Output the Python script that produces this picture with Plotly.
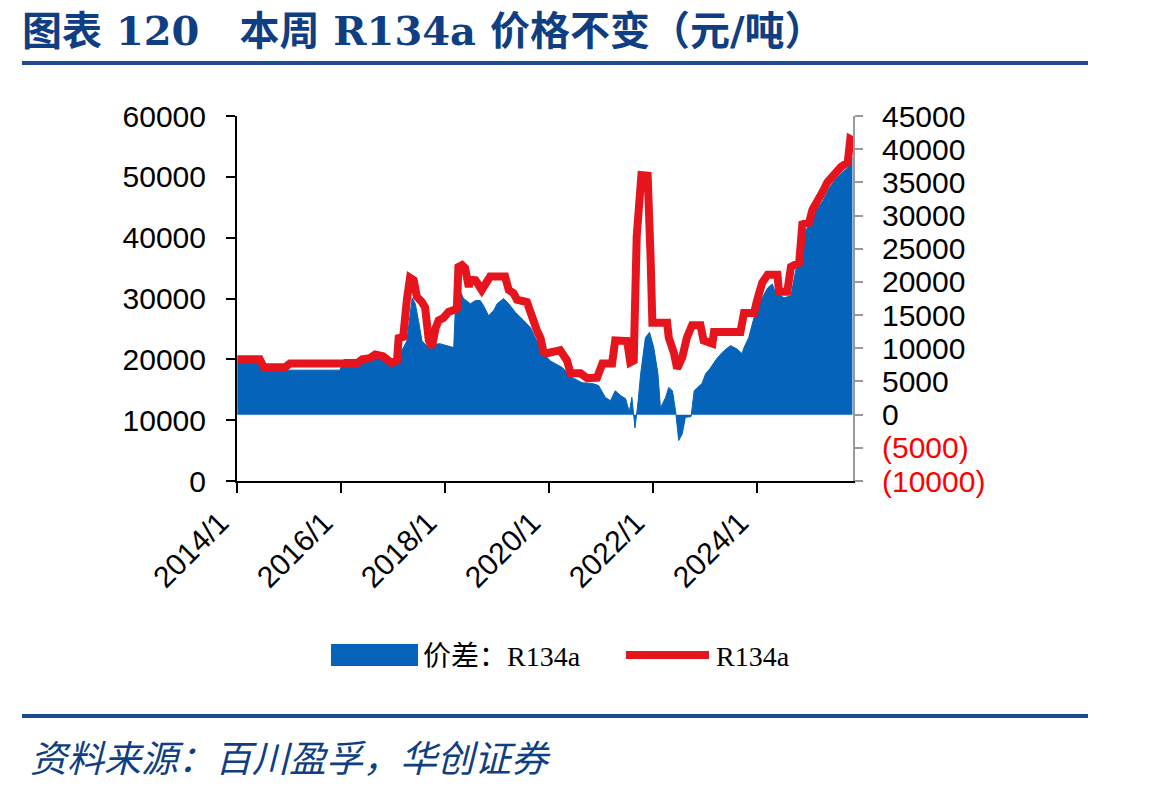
import plotly.graph_objects as go

# ---------------- data ----------------
price_dates = [
    "2014-01-03", "2014-06-10", "2014-07-09", "2014-12-05", "2015-01-08", "2016-04-23",
    "2016-05-30", "2016-07-23", "2016-08-29", "2016-10-23", "2016-12-20", "2017-01-30",
    "2017-02-10", "2017-03-14", "2017-04-09", "2017-05-01", "2017-05-27", "2017-06-18",
    "2017-07-24", "2017-08-15", "2017-09-10", "2017-10-02", "2017-10-27", "2017-11-18",
    "2017-12-21", "2018-01-27", "2018-03-04", "2018-03-26", "2018-04-06", "2018-05-01",
    "2018-05-23", "2018-06-18", "2018-06-29", "2018-08-04", "2018-09-17", "2018-10-13",
    "2018-11-15", "2019-02-28", "2019-03-26", "2019-04-28", "2019-05-23", "2019-08-01",
    "2019-08-26", "2019-09-17", "2019-10-09", "2019-11-04", "2019-11-25", "2019-12-20",
    "2020-03-21", "2020-05-08", "2020-06-02", "2020-08-11", "2020-09-27", "2020-12-05",
    "2021-01-12", "2021-03-21", "2021-04-12", "2021-07-05", "2021-07-27", "2021-08-20",
    "2021-09-10", "2021-10-13", "2021-11-26", "2021-12-17", "2021-12-29", "2022-04-12",
    "2022-04-23", "2022-05-30", "2022-06-21", "2022-07-27", "2022-08-29", "2022-10-04",
    "2022-12-02", "2022-12-24", "2023-02-24", "2023-03-07", "2023-09-09", "2023-10-04",
    "2023-12-13", "2024-01-05", "2024-02-09", "2024-03-18", "2024-05-26", "2024-06-06",
    "2024-08-03", "2024-08-29", "2024-10-26", "2024-11-17", "2025-01-04", "2025-01-27",
    "2025-03-04", "2025-04-10", "2025-05-12", "2025-06-29", "2025-08-15", "2025-10-02",
    "2025-10-13", "2025-10-20", "2025-11-04",
]
price_values = [
    20000, 20000, 18700, 18700, 19300, 19300,
    20000, 20200, 20800, 20500, 19400, 19800,
    23500, 23700, 29800, 33400, 33000, 30300,
    29400, 28500, 23100, 22000, 25100, 26400,
    26800, 27800, 28100, 28300, 35200, 35500,
    35000, 31900, 33100, 33000, 31400, 32700,
    33600, 33600, 31400, 30900, 29800, 29400,
    27600, 25600, 24800, 23500, 21200, 21000,
    21500, 19800, 17700, 17700, 16900, 17000,
    19300, 19300, 23100, 23000, 19500, 19800,
    40200, 50300, 50200, 36400, 26000, 26000,
    23600, 21000, 18500, 20300, 23600, 25600,
    25600, 23100, 22600, 24500, 24500, 27600,
    27600, 29800, 32600, 33900, 33900, 31100,
    31100, 35200, 35900, 42200, 42500, 44600,
    45800, 47600, 49100, 50400, 51600, 52400,
    54000, 56200, 56000,
]

spread_dates = [
    "2014-01-03", "2014-06-10", "2014-07-09", "2015-12-25", "2016-01-22", "2016-04-16",
    "2016-05-30", "2016-08-29", "2016-11-28", "2017-01-15", "2017-02-21", "2017-04-09",
    "2017-05-16", "2017-06-07", "2017-06-29", "2017-07-24", "2017-08-26", "2017-11-25",
    "2018-03-04", "2018-03-15", "2018-04-21", "2018-05-12", "2018-06-29", "2018-08-04",
    "2018-09-06", "2018-09-28", "2018-11-04", "2018-12-10", "2019-01-03", "2019-02-17",
    "2019-03-26", "2019-05-12", "2019-07-09", "2019-08-26", "2019-10-09", "2019-11-25",
    "2020-01-12", "2020-04-05", "2020-06-13", "2020-08-22", "2020-10-30", "2020-12-16",
    "2021-02-02", "2021-03-10", "2021-04-12", "2021-05-19", "2021-06-24", "2021-07-20",
    "2021-08-07", "2021-08-29", "2021-09-20", "2021-10-08", "2021-11-10", "2021-12-09",
    "2022-01-08", "2022-02-06", "2022-02-24", "2022-04-01", "2022-04-23", "2022-05-19",
    "2022-06-10", "2022-07-02", "2022-07-27", "2022-08-18", "2022-09-27", "2022-10-19",
    "2022-12-13", "2023-01-08", "2023-02-06", "2023-03-25", "2023-05-15", "2023-07-01",
    "2023-08-15", "2023-09-20", "2023-10-04", "2023-11-06", "2023-12-13", "2024-01-30",
    "2024-03-18", "2024-04-20", "2024-05-11", "2024-07-12", "2024-08-29", "2024-10-01",
    "2024-11-06", "2024-11-28", "2025-01-08", "2025-02-20", "2025-04-10", "2025-05-27",
    "2025-06-29", "2025-08-15", "2025-10-02", "2025-10-27", "2025-11-04",
]
spread_values = [
    7700, 7700, 6700, 6700, 8300, 8300,
    8500, 9300, 8600, 8100, 9200, 11100,
    17600, 16700, 14200, 11100, 10400, 10700,
    10100, 15700, 18500, 17500, 16700, 17200,
    17200, 16500, 14900, 15700, 16700, 17500,
    16700, 15400, 14200, 13100, 11100, 9200,
    8100, 7100, 5600, 4800, 4700, 4400,
    2600, 2100, 3600, 2900, 2400, 400,
    2600, -2000, 2000, 6200, 11600, 12400,
    10100, 6200, 1000, 2600, 4100, 3600,
    600, -3900, -2900, -400, -300, 3600,
    4700, 6200, 6900, 8400, 9600, 10400,
    9900, 9200, 10100, 11600, 14600, 17200,
    19100, 19700, 18400, 17600, 17900, 21700,
    24200, 27200, 28800, 30700, 32200, 34200,
    35200, 36300, 37200, 38700, 38700,
]

left_tick_values = [0, 10000, 20000, 30000, 40000, 50000, 60000]
right_tick_values = [-10000, -5000, 0, 5000, 10000, 15000, 20000, 25000, 30000, 35000, 40000, 45000]
x_tick_dates = ["2014-01-01", "2016-01-01", "2018-01-01", "2020-01-01", "2022-01-01", "2024-01-01"]
x_tick_labels = ["2014/1", "2016/1", "2018/1", "2020/1", "2022/1", "2024/1"]

series_names = ["价差：R134a", "R134a"]
title_text = "图表 120　本周 R134a 价格不变（元/吨）"
source_text = "资料来源：百川盈孚，华创证券"

# ---------------- style ----------------
BLUE = "#0563b9"
RED = "#e5141d"
NAVY = "#0f3f82"
RULE = "#1c4b8f"
SANS = "Liberation Sans, Arial, sans-serif"
SERIF = "Liberation Serif, Noto Sans CJK SC, serif"
TITLE_FONT = "DejaVu Serif, Noto Sans CJK SC, serif"

W, H = 1149, 792
L, R, T, B = 237, 296, 116, 311
PW, PH = W - L - R, H - T - B


def fx(x):
    return (x - L) / PW


def fy(y):
    return (H - B - y) / PH


right_tick_text = [
    f'<span style="color:#ff0000">({-v})</span>' if v < 0 else str(v)
    for v in right_tick_values
]

fig = go.Figure()
fig.add_trace(go.Scatter(
    x=spread_dates, y=spread_values, yaxis="y", mode="lines",
    fill="tozeroy", fillcolor=BLUE, line=dict(color=BLUE, width=1),
    name=series_names[0], showlegend=False,
))
fig.add_trace(go.Scatter(
    x=price_dates, y=price_values, yaxis="y2", mode="lines",
    line=dict(color=RED, width=8), name=series_names[1], showlegend=False,
))

fig.update_layout(
    width=W, height=H,
    margin=dict(l=L, r=R, t=T, b=B, pad=0, autoexpand=False),
    paper_bgcolor="white", plot_bgcolor="white",
    xaxis=dict(
        type="date", range=["2014-01-01", "2025-11-08"],
        tickvals=x_tick_dates, ticktext=x_tick_labels, tickangle=-45,
        showgrid=False, zeroline=False, showline=True, linecolor="black", linewidth=2,
        ticks="outside", ticklen=10, tickwidth=2, tickcolor="black",
        tickfont=dict(family=SANS, size=30, color="black"),
        ticklabelshift=-17,
    ),
    yaxis=dict(
        side="right", range=[-10000, 45000],
        tickvals=right_tick_values, ticktext=right_tick_text,
        showgrid=False, zeroline=False, showline=True, linecolor="#999999", linewidth=2,
        ticks="outside", ticklen=8, tickwidth=2, tickcolor="#999999",
        tickfont=dict(family=SANS, size=30, color="black"),
        ticklabelstandoff=13,
    ),
    yaxis2=dict(
        side="left", overlaying="y", range=[0, 60000],
        tickvals=left_tick_values, ticktext=[str(v) for v in left_tick_values],
        showgrid=False, zeroline=False, showline=True, linecolor="black", linewidth=2,
        ticks="outside", ticklen=9, tickwidth=2, tickcolor="black",
        tickfont=dict(family=SANS, size=30, color="black"),
        ticklabelstandoff=14,
    ),
    shapes=[
        dict(type="line", xref="paper", yref="paper", x0=fx(22), x1=fx(1088), y0=fy(63), y1=fy(63),
             line=dict(color=RULE, width=4)),
        dict(type="line", xref="paper", yref="paper", x0=fx(22), x1=fx(1088), y0=fy(716), y1=fy(716),
             line=dict(color=RULE, width=4)),
        dict(type="rect", xref="paper", yref="paper", x0=fx(331), x1=fx(418), y0=fy(666), y1=fy(644),
             fillcolor=BLUE, line=dict(width=0)),
        dict(type="line", xref="paper", yref="paper", x0=fx(626), x1=fx(709), y0=fy(655), y1=fy(655),
             line=dict(color=RED, width=8)),
    ],
    annotations=[
        dict(text="<b>" + title_text + "</b>", xref="paper", yref="paper", x=fx(20), y=fy(31),
             xanchor="left", yanchor="middle", showarrow=False,
             font=dict(family=TITLE_FONT, size=40, color=NAVY)),
        dict(text=source_text, xref="paper", yref="paper", x=fx(28), y=fy(756),
             xanchor="left", yanchor="middle", showarrow=False,
             font=dict(family="Noto Sans CJK SC, sans-serif", size=37, color=NAVY, style="italic")),
        dict(text=series_names[0], xref="paper", yref="paper", x=fx(421), y=fy(656),
             xanchor="left", yanchor="middle", showarrow=False,
             font=dict(family=SERIF, size=28, color="black")),
        dict(text=series_names[1], xref="paper", yref="paper", x=fx(714), y=fy(656),
             xanchor="left", yanchor="middle", showarrow=False,
             font=dict(family=SERIF, size=28, color="black")),
    ],
)

fig.write_html("out.html")
